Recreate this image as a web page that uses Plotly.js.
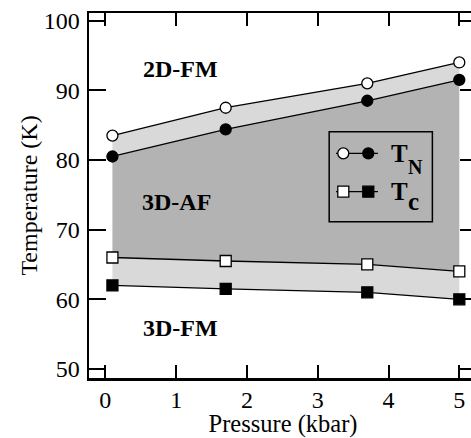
<!DOCTYPE html>
<html>
<head>
<meta charset="utf-8">
<script src="https://cdn.plot.ly/plotly-3.0.1.min.js"></script>
<style>
html,body{margin:0;padding:0;overflow:hidden;background:#fff;}
#chart{width:478px;height:438px;}
</style>
</head>
<body>
<div id="chart"></div>
<script>
// Data
const pressure = [0.1, 1.7, 3.7, 5.0];
const tnOpen   = [83.5, 87.5, 91.0, 94.0];   // open circles
const tnFilled = [80.5, 84.4, 88.5, 91.5];   // filled circles
const tcOpen   = [66.0, 65.5, 65.0, 64.0];   // open squares
const tcFilled = [62.0, 61.5, 61.0, 60.0];   // filled squares
const xTicks = [0, 1, 2, 3, 4, 5];
const yTicks = [50, 60, 70, 80, 90, 100];

const LIGHT = '#d9d9d9';
const DARK = '#b3b3b3';
const FONT = 'Liberation Serif, serif';

function fillTrace(y, fill, color) {
  return {x: pressure, y: y, mode: 'lines', line: {width: 0, color: 'rgba(0,0,0,0)'},
          fill: fill, fillcolor: color, hoverinfo: 'skip', showlegend: false};
}
function dataTrace(y, symbol, filled) {
  return {x: pressure, y: y, mode: 'lines+markers', showlegend: false,
          line: {color: '#000', width: 1.3},
          marker: {symbol: symbol, size: 11, color: filled ? '#000' : '#fff',
                   line: {color: '#000', width: 1.3}}};
}

const traces = [
  fillTrace(tcFilled, 'none', LIGHT),
  fillTrace(tcOpen, 'tonexty', LIGHT),
  fillTrace(tnFilled, 'tonexty', DARK),
  fillTrace(tnOpen, 'tonexty', LIGHT),
  dataTrace(tcFilled, 'square', true),
  dataTrace(tcOpen, 'square', false),
  dataTrace(tnFilled, 'circle', true),
  dataTrace(tnOpen, 'circle', false)
];

// legend (drawn manually in paper coordinates)
const lx0 = 0.619, lx1 = 0.885, ly0 = 0.428, ly1 = 0.675;
const row1 = 0.6156, row2 = 0.5104;
const segX0 = 0.6366, segX1 = 0.7448, m1 = 0.6554, m2 = 0.7198;
const shapes = [
  {type: 'rect', xref: 'paper', yref: 'paper', x0: lx0, x1: lx1, y0: ly0, y1: ly1,
   line: {color: '#000', width: 1.5}, fillcolor: 'rgba(0,0,0,0)'},
  {type: 'line', xref: 'paper', yref: 'paper', x0: segX0, x1: segX1, y0: row1, y1: row1, line: {color: '#000', width: 1.3}},
  {type: 'line', xref: 'paper', yref: 'paper', x0: segX0, x1: segX1, y0: row2, y1: row2, line: {color: '#000', width: 1.3}}
];
function legMarker(type, xc, yc, filled) {
  return {type: type, xref: 'paper', yref: 'paper', xsizemode: 'pixel', ysizemode: 'pixel',
          xanchor: xc, yanchor: yc, x0: -5.5, x1: 5.5, y0: -5.5, y1: 5.5,
          line: {color: '#000', width: 1.3}, fillcolor: filled ? '#000' : '#fff'};
}
shapes.push(legMarker('circle', m1, row1, false));
shapes.push(legMarker('circle', m2, row1, true));
shapes.push(legMarker('rect', m1, row2, false));
shapes.push(legMarker('rect', m2, row2, true));

const annFont = {family: FONT, size: 24, color: '#000'};
const legFont = {family: FONT, size: 25, color: '#000'};
function ann(text, x, y, ref, font) {
  return {text: text, x: x, y: y, xref: ref ? 'paper' : 'x', yref: ref ? 'paper' : 'y',
          xanchor: 'center', yanchor: 'middle', showarrow: false, font: font};
}
const annotations = [
  ann('<b>2D-FM</b>', 1.06, 93.05, false, annFont),
  ann('<b>3D-AF</b>', 1.01, 74.0, false, annFont),
  ann('<b>3D-FM</b>', 1.06, 55.85, false, annFont),
  ann('<b>T</b>', 0.801, 0.6156, true, legFont),
  ann('<b>N</b>', 0.841, 0.579, true, {family: FONT, size: 20, color: '#000'}),
  ann('<b>T</b>', 0.801, 0.512, true, legFont),
  ann('<b>c</b>', 0.836, 0.4836, true, {family: FONT, size: 25, color: '#000'})
];

const layout = {
  width: 478, height: 438,
  margin: {l: 89, r: 1, t: 13, b: 60},
  paper_bgcolor: '#fff', plot_bgcolor: '#fff',
  font: {family: FONT, size: 24, color: '#000'},
  showlegend: false,
  xaxis: {
    range: [-0.231, 5.25], tickvals: xTicks, ticktext: xTicks.map(String),
    ticks: 'inside', ticklen: 13, tickwidth: 2, tickcolor: '#000',
    showline: true, linewidth: 2.5, linecolor: '#000', mirror: 'ticks',
    showgrid: false, zeroline: false,
    tickfont: {family: FONT, size: 24}, ticklabelstandoff: -1,
    title: {text: 'Pressure (kbar)', font: {family: FONT, size: 24.5}, standoff: 6}
  },
  yaxis: {
    range: [48.7, 101.1], tickvals: yTicks, ticktext: yTicks.map(String),
    ticks: 'inside', ticklen: 17, tickwidth: 2, tickcolor: '#000',
    showline: true, linewidth: 2.5, linecolor: '#000', mirror: 'ticks',
    showgrid: false, zeroline: false,
    tickfont: {family: FONT, size: 24}, ticklabelstandoff: 2,
    title: {text: 'Temperature (K)', font: {family: FONT, size: 24}, standoff: 0}
  },
  shapes: shapes,
  annotations: annotations
};

Plotly.newPlot('chart', traces, layout, {displayModeBar: false, staticPlot: true});
</script>
</body>
</html>
